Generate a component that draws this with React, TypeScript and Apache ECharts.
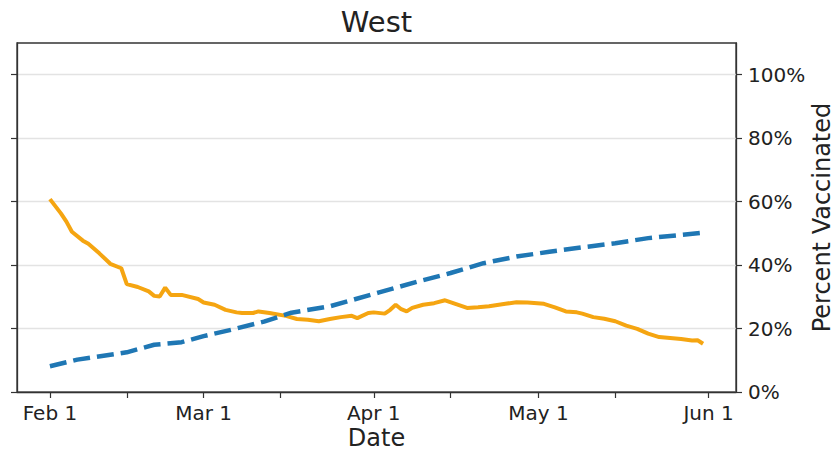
import React, { useEffect, useRef } from "react";
import * as echarts from "echarts";

// x values are days after Feb 1
const tickLabels = ["Feb 1", "Mar 1", "Apr 1", "May 1", "Jun 1"];
const labelDays = [0, 28, 59, 89, 120];
const tickDays = [0, 14, 28, 42, 59, 73, 89, 103, 120];
const percentTicks = [0, 20, 40, 60, 80, 100];

const blueDays = [0, 5, 14, 19, 24, 28, 33, 39, 44, 51, 60, 67, 73, 79, 85, 91, 97, 103, 109, 119];
const blueValues = [8.1, 10.2, 12.5, 14.9, 15.7, 17.6, 19.6, 22.2, 25.0, 27.0, 31.4, 34.8, 37.5, 40.6, 42.7, 44.2, 45.6, 46.9, 48.5, 50.2];

const orangeDays = [
  0, 2, 3, 4, 6, 7, 9, 11, 13, 14, 16, 18, 19, 20, 21, 22, 24, 27, 28, 30,
  32, 34, 35, 37, 38, 40, 43, 45, 47, 49, 51, 53, 55, 56, 58, 59, 61, 62, 63, 64,
  65, 66, 68, 70, 72, 74, 76, 78, 80, 83, 85, 87, 90, 92, 94, 96, 97, 99, 101, 103,
  105, 107, 109, 111, 113, 115, 117, 118, 119,
];
const orangeValues = [
  60.8, 56.3, 53.7, 50.5, 47.7, 46.7, 43.7, 40.4, 39.0, 34.0, 33.1, 31.7, 30.3, 30.1, 32.9, 30.6, 30.6, 29.3, 28.2, 27.5,
  25.9, 25.1, 24.9, 24.9, 25.4, 24.9, 24.0, 23.0, 22.8, 22.3, 23.0, 23.6, 24.0, 23.3, 24.9, 25.1, 24.7, 25.9, 27.5, 26.1,
  25.4, 26.5, 27.5, 28.0, 28.9, 27.7, 26.5, 26.7, 27.0, 27.8, 28.3, 28.2, 27.8, 26.7, 25.4, 25.1, 24.7, 23.6, 23.1, 22.3,
  20.9, 19.9, 18.4, 17.3, 17.0, 16.7, 16.2, 16.3, 15.2,
];

const FONT = "DejaVu Sans";
const TEXT = "#222222";
const SPINE = "#333333";

export default function App() {
  const ref = useRef<HTMLDivElement>(null);

  useEffect(() => {
    if (!ref.current) return;
    const chart = echarts.init(ref.current, null, { renderer: "svg" });

    const yBase = {
      type: "value",
      min: 0,
      max: 110,
      interval: 20,
      axisLine: { show: true, onZero: false, lineStyle: { color: SPINE, width: 1.3 } },
      splitLine: { show: false },
    };

    chart.setOption({
      animation: false,
      backgroundColor: "#ffffff",
      graphic: [
        {
          type: "text",
          x: 376.5,
          y: 22,
          style: {
            text: "West",
            fontFamily: FONT,
            fontSize: 29,
            fill: TEXT,
            textAlign: "center",
            textVerticalAlign: "middle",
          },
        },
      ],
      grid: {
        left: 17,
        right: 102,
        top: 43,
        bottom: 60,
        outerBoundsMode: "none",
        containLabel: false,
        show: true,
        borderColor: SPINE,
        borderWidth: 1.3,
        backgroundColor: "transparent",
      },
      xAxis: {
        type: "value",
        min: -6,
        max: 125,
        axisLine: { show: true, onZero: false, lineStyle: { color: SPINE, width: 1.3 } },
        axisTick: {
          show: true,
          customValues: tickDays,
          length: 6,
          lineStyle: { color: SPINE, width: 1.2 },
        },
        axisLabel: {
          customValues: labelDays,
          formatter: (v: number) => {
            const i = labelDays.indexOf(v);
            return i >= 0 ? tickLabels[i] : "";
          },
          fontFamily: FONT,
          fontSize: 20,
          color: TEXT,
          margin: 11,
        },
        splitLine: { show: false },
        name: "Date",
        nameLocation: "middle",
        nameGap: 34,
        nameMoveOverlap: false,
        nameTextStyle: { fontFamily: FONT, fontSize: 24, lineHeight: 24, color: TEXT },
      },
      yAxis: [
        {
          ...yBase,
          position: "left",
          axisTick: {
            show: true,
            customValues: percentTicks,
            length: 6,
            lineStyle: { color: SPINE, width: 1.2 },
          },
          axisLabel: { show: false },
          splitLine: {
            show: true,
            lineStyle: { color: "#e3e3e3", width: 1.3 },
          },
        },
        {
          ...yBase,
          position: "right",
          axisTick: {
            show: true,
            customValues: percentTicks,
            length: 6,
            lineStyle: { color: SPINE, width: 1.2 },
          },
          axisLabel: {
            customValues: percentTicks,
            formatter: (v: number) => `${v}%`,
            fontFamily: FONT,
            fontSize: 20,
            color: TEXT,
            margin: 12,
          },
          name: "Percent Vaccinated",
          nameLocation: "middle",
          nameRotate: 90,
          nameGap: 74,
          nameMoveOverlap: false,
          nameTextStyle: { fontFamily: FONT, fontSize: 24, lineHeight: 24, color: TEXT },
        },
      ],
      series: [
        {
          type: "line",
          yAxisIndex: 1,
          data: blueDays.map((d, i) => [d, blueValues[i]]),
          showSymbol: false,
          symbol: "none",
          lineStyle: { color: "#1f77b4", width: 4.5, type: [17, 7], cap: "butt" },
          z: 3,
        },
        {
          type: "line",
          yAxisIndex: 1,
          data: orangeDays.map((d, i) => [d, orangeValues[i]]),
          showSymbol: false,
          symbol: "none",
          lineStyle: { color: "#f5a511", width: 4 },
          z: 2,
        },
      ],
    });

    return () => chart.dispose();
  }, []);

  return (
    <div
      ref={ref}
      style={{ position: "fixed", left: 0, top: 0, width: 838, height: 452, background: "#fff" }}
    />
  );
}
